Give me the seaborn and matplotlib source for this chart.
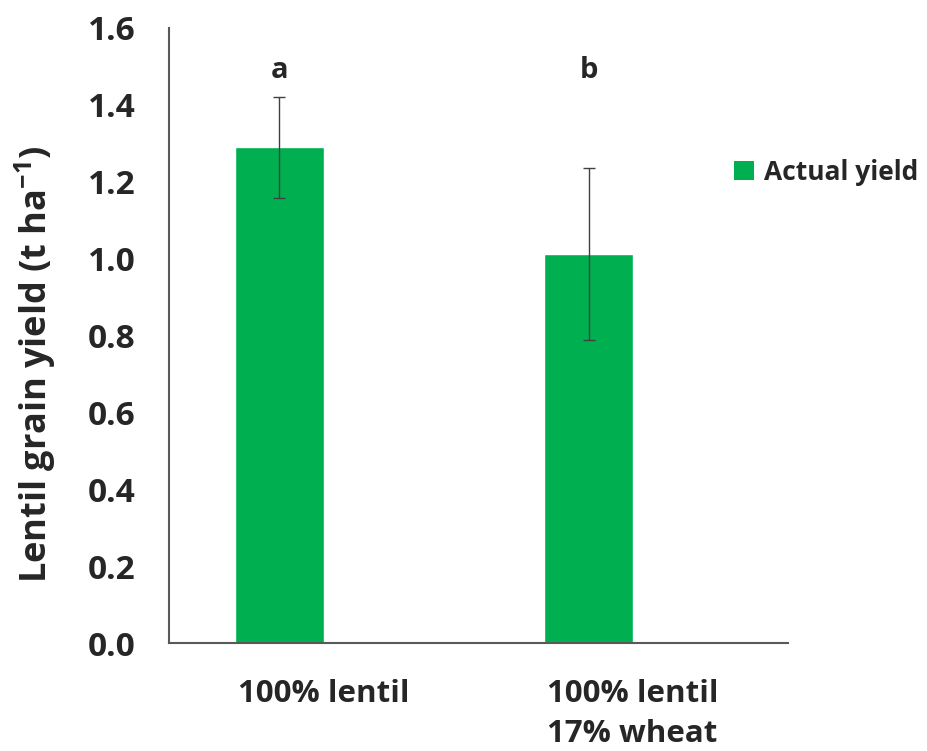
import matplotlib
matplotlib.use("Agg")
import matplotlib.pyplot as plt
import seaborn as sns
import pandas as pd
from matplotlib.patches import Patch

categories = ["100% lentil", "100% lentil\n17% wheat"]
series = ["Actual yield", "Potential yield"]
actual = [1.29, 1.013]
potential = [0.0, 0.0]
errors = [0.131, 0.224]
letters = ["a", "b"]
yticks = [0.0, 0.2, 0.4, 0.6, 0.8, 1.0, 1.2, 1.4, 1.6]

df = pd.DataFrame({
    "category": categories * 2,
    "series": [series[0]] * 2 + [series[1]] * 2,
    "value": actual + potential,
})

sns.set_style("white")
plt.rcParams["font.family"] = ["Open Sans", "DejaVu Sans"]
plt.rcParams["font.weight"] = "bold"
plt.rcParams["mathtext.fontset"] = "custom"
plt.rcParams["mathtext.bf"] = "Open Sans:bold"
plt.rcParams["mathtext.rm"] = "Open Sans:bold"

fig = plt.figure(figsize=(9.28, 7.51), dpi=100)
ax = fig.add_axes([169 / 928, 1 - 643 / 751, (788 - 169) / 928, (643 - 28) / 751])

green = "#00B050"
sns.barplot(data=df, x="category", y="value", hue="series", order=categories,
            hue_order=series, palette=[green, "#ffffff"], width=0.574,
            ax=ax, legend=False, errorbar=None, saturation=1)

# edge on zero-height series so it shows as a baseline sliver
for p in ax.containers[1]:
    p.set_edgecolor("#8fa070")
    p.set_linewidth(1.0)

bars = ax.containers[0]
xs = [p.get_x() + p.get_width() / 2 for p in bars]
ax.errorbar(xs, actual, yerr=errors, fmt="none", ecolor="#404040",
            elinewidth=1.0, capsize=4, capthick=1.0)
for x, t in zip(xs, letters):
    ax.text(x, 1.49, t, ha="center", va="center", fontsize=21, fontweight="bold")

ax.set_xlim(-0.5, 1.5)
ax.set_ylim(0, 1.6)
ax.set_yticks(yticks)
ax.set_yticklabels([f"{v:.1f}" for v in yticks], fontsize=24, fontweight="bold")
ax.tick_params(axis="y", direction="in", length=8, width=1.2, color="#595959", pad=24)
ax.tick_params(axis="x", length=0, pad=26)
for lab in ax.get_xticklabels():
    lab.set_fontsize(22.5)
    lab.set_fontweight("bold")
    lab.set_ha("center")
    lab.set_multialignment("left")
    lab.set_linespacing(1.45)
ax.set_xlabel("")
ax.set_ylabel("Lentil grain yield (t ha$^{-1}$)", fontsize=26, fontweight="bold")
ax.yaxis.set_label_coords(-0.18, 0.453)
for s in ["top", "right"]:
    ax.spines[s].set_visible(False)
for s in ["left", "bottom"]:
    ax.spines[s].set_color("#595959")
    ax.spines[s].set_linewidth(1.5)

handles = [Patch(facecolor=green, edgecolor="none", label=series[0])]
fig.legend(handles=handles, loc="center left", bbox_to_anchor=(734 / 928, 1 - 172 / 751),
           frameon=False, handlelength=0.75, handleheight=0.75,
           handletextpad=0.4, borderpad=0, borderaxespad=0,
           prop={"family": "Open Sans", "weight": "bold", "size": 19})

fig.savefig("out.png", dpi=100)
